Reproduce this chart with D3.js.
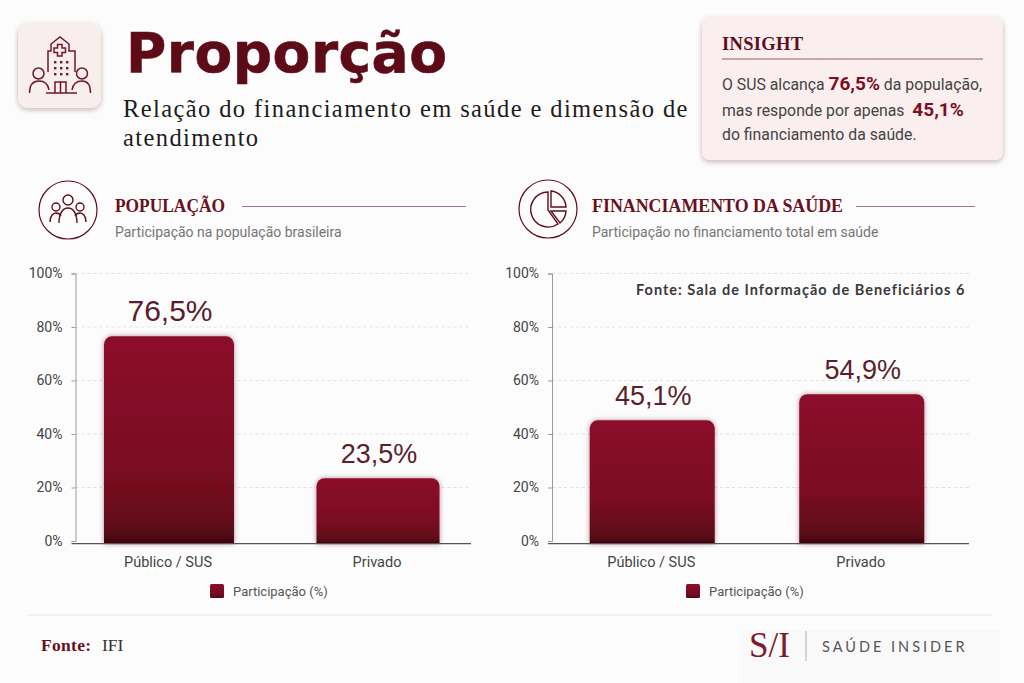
<!DOCTYPE html>
<html lang="pt-BR">
<head>
<meta charset="utf-8">
<title>Proporção</title>
<script src="https://cdn.jsdelivr.net/npm/d3@7"></script>
<style>
  html, body { margin: 0; padding: 0; background: #fdfcfc; }
  svg { display: block; }
</style>
</head>
<body>
<div id="chart"></div>
<script>
// Values
var categories = ["Público / SUS", "Privado"];
var populacao = [76.5, 23.5];
var financiamento = [45.1, 54.9];
var tickValues = [0, 20, 40, 60, 80, 100];
var legendLabel = "Participação (%)";

var WINE = "#5e0e1c", SERIF = "'Liberation Serif', serif",
    SANS = "Roboto, sans-serif", ARIAL = "'Liberation Sans', sans-serif";

var svg = d3.select("#chart").append("svg")
    .attr("width", 1024).attr("height", 683);

var defs = svg.append("defs");

var grad = defs.append("linearGradient").attr("id", "barFill")
    .attr("x1", 0).attr("y1", 0).attr("x2", 0).attr("y2", 1);
grad.append("stop").attr("offset", "0%").attr("stop-color", "#8c0e2a");
grad.append("stop").attr("offset", "65%").attr("stop-color", "#7a0b21");
grad.append("stop").attr("offset", "90%").attr("stop-color", "#620a1a");
grad.append("stop").attr("offset", "100%").attr("stop-color", "#45050f");

function shadow(id, dy, blur, opacity) {
    var f = defs.append("filter").attr("id", id)
        .attr("x", "-15%").attr("y", "-15%").attr("width", "130%").attr("height", "130%");
    f.append("feDropShadow").attr("dx", 0).attr("dy", dy)
        .attr("stdDeviation", blur)
        .attr("flood-color", "#4a1520").attr("flood-opacity", opacity);
}
shadow("cardShadow", 2, 2.5, 0.3);
shadow("barShadow", 0, 2.5, 0.45);

function label(parent, x, y, str, size, family, color, weight, spacing) {
    return parent.append("text")
        .attr("x", x).attr("y", y).text(str)
        .attr("font-size", size + "px")
        .attr("font-family", family)
        .attr("fill", color)
        .attr("font-weight", weight || 400)
        .attr("letter-spacing", spacing || 0);
}

// Logo patch behind the brand mark
svg.append("rect").attr("x", 740).attr("y", 630).attr("width", 260).attr("height", 53)
    .attr("fill", "#faf9f9");

// Header
svg.append("rect").attr("x", 18).attr("y", 23).attr("width", 83).attr("height", 85)
    .attr("rx", 10).attr("fill", "#f8eeee").attr("filter", "url(#cardShadow)");

var hospital = svg.append("g").attr("fill", "none")
    .attr("stroke", "#701825").attr("stroke-width", 1.5);
hospital.append("path").attr("d", "M48 72V51H51V44L60 37L69 44V51H75V72");
hospital.append("path").attr("d", "M57.5 44.5H62V48H65.5V52.5H62V56H57.5V52.5H54V48H57.5Z");
hospital.append("path").attr("d", "M46 93H77M55 93V82H66V93M60.5 82V93");
hospital.append("circle").attr("cx", 38.5).attr("cy", 73.5).attr("r", 5.5);
hospital.append("circle").attr("cx", 82).attr("cy", 73.5).attr("r", 5.5);
hospital.append("path").attr("d", "M29.5 93C29.5 84 34 81 39 81C44 81 48 84 49 90");
hospital.append("path").attr("d", "M90.5 93C90.5 84 87 81 82 81C77 81 73 84 72 90");
var dots = [[54, 61], [60, 61], [66, 61], [54, 67], [60, 67], [66, 67], [54, 73], [60, 73], [66, 73]];
svg.append("g").selectAll("rect").data(dots).enter().append("rect")
    .attr("x", function(d) { return d[0]; })
    .attr("y", function(d) { return d[1]; })
    .attr("width", 2.4).attr("height", 2.4).attr("fill", "#701825");

label(svg, 126, 72, "Proporção", 55, "'DejaVu Sans', sans-serif", "#5e0b18", 700, 0.5)
    .attr("stroke", "#5e0b18").attr("stroke-width", 0.6);
label(svg, 123, 117, "Relação do financiamento em saúde e dimensão de", 24.5, SERIF, "#1c1c1c", 400, 1.4);
label(svg, 123, 146, "atendimento", 24.5, SERIF, "#1c1c1c", 400, 1.4);

// Insight card
svg.append("rect").attr("x", 702).attr("y", 17).attr("width", 301).attr("height", 143)
    .attr("rx", 8).attr("fill", "#faeeee").attr("filter", "url(#cardShadow)");
label(svg, 722, 50, "INSIGHT", 18.5, SERIF, "#5e0e1c", 700, 0.3);
svg.append("line").attr("x1", 722).attr("x2", 983).attr("y1", 59).attr("y2", 59)
    .attr("stroke", "#8d5a62").attr("stroke-width", 1);

var insightLines = [
    { y: 90, parts: [["O SUS alcança ", 0], ["76,5%", 1], [" da população,", 0]] },
    { y: 116, parts: [["mas responde por apenas  ", 0], ["45,1%", 1]] },
    { y: 140, parts: [["do financiamento da saúde.", 0]] }
];
insightLines.forEach(function(line) {
    var t = svg.append("text").attr("x", 722).attr("y", line.y)
        .attr("font-family", SANS).style("white-space", "pre");
    line.parts.forEach(function(p) {
        t.append("tspan").text(p[0])
            .attr("font-size", p[1] ? "19px" : "15.8px")
            .attr("font-weight", p[1] ? 700 : 400)
            .attr("fill", p[1] ? "#7a0f22" : "#444");
    });
});

// Section icons
var people = svg.append("g").attr("fill", "none").attr("stroke", WINE).attr("stroke-width", 1.4);
people.append("circle").attr("cx", 68).attr("cy", 210).attr("r", 29).attr("stroke-width", 1.2);
people.append("circle").attr("cx", 68).attr("cy", 200).attr("r", 5);
people.append("circle").attr("cx", 56).attr("cy", 207).attr("r", 4);
people.append("circle").attr("cx", 80).attr("cy", 207).attr("r", 4);
people.append("path").attr("d", "M59 223C59 213 63 208 68 208C73 208 77 213 77 223");
people.append("path").attr("d", "M50 222C50 216 53 213 56 213C58 213 60 214 61 216");
people.append("path").attr("d", "M86 222C86 216 83 213 80 213C78 213 76 214 75 216");

var pie = svg.append("g").attr("fill", "none").attr("stroke", WINE).attr("stroke-width", 1.4);
pie.append("circle").attr("cx", 548).attr("cy", 209).attr("r", 29).attr("stroke-width", 1.2);
pie.append("path").attr("d", "M548 192A17.5 17.5 0 1 0 558 224L548 210Z");
pie.append("path").attr("d", "M551 191A17 17 0 0 1 566 207H551Z");
pie.append("path").attr("d", "M551 211H566A17 17 0 0 1 560 223Z");

// One panel per chart
var panels = [
    { values: populacao, title: "POPULAÇÃO", titleWidth: 110, sub: "Participação na população brasileira",
      textX: 115, ruleFrom: 242, ruleTo: 466, range: [64.5, 482.5], axisX: [75.5, 471],
      barWidths: [130, 123], valueSize: [30, 27], legendX: 210 },
    { values: financiamento, title: "FINANCIAMENTO DA SAÚDE", titleWidth: 251, sub: "Participação no financiamento total em saúde",
      textX: 592, ruleFrom: 856, ruleTo: 975, range: [547.5, 966.5], axisX: [552, 969],
      barWidths: [125, 125], valueSize: [27, 27], legendX: 686 }
];

var y = d3.scaleLinear().domain([0, 100]).range([541, 273.5]);
var baseline = 543.7;

panels.forEach(function(p) {
    label(svg, p.textX, 212, p.title, 19.5, SERIF, "#6a1020", 700)
        .attr("textLength", p.titleWidth).attr("lengthAdjust", "spacingAndGlyphs");
    svg.append("line").attr("x1", p.ruleFrom).attr("x2", p.ruleTo).attr("y1", 206.5).attr("y2", 206.5)
        .attr("stroke", "#a57880").attr("stroke-width", 1.2);
    label(svg, p.textX, 237, p.sub, 14, SANS, "#757575");

    var x = d3.scaleBand().domain(categories).range(p.range)
        .paddingInner(0.4).paddingOuter(0.2);

    // gridlines
    svg.append("g").selectAll("line").data(tickValues.slice(1)).enter().append("line")
        .attr("x1", p.axisX[0]).attr("x2", p.axisX[1])
        .attr("y1", function(d) { return y(d); })
        .attr("y2", function(d) { return y(d); })
        .attr("stroke", "#e4dfdf").attr("stroke-width", 1).attr("stroke-dasharray", "3,3");

    // y axis
    var yAxis = svg.append("g").attr("transform", "translate(" + p.axisX[0] + ",0)")
        .call(d3.axisLeft(y).tickValues(tickValues).tickSize(4).tickPadding(9)
            .tickFormat(function(d) { return d + "%"; }));
    yAxis.select(".domain").attr("stroke", "#9a9a9a");
    yAxis.selectAll(".tick line").attr("stroke", "#9a9a9a");
    yAxis.selectAll("text").attr("font-family", SANS).attr("font-size", "14px").attr("fill", "#444");

    // bars with rounded tops
    svg.append("g").selectAll("path").data(p.values).enter().append("path")
        .attr("d", function(d, i) {
            var cx = x(categories[i]) + x.bandwidth() / 2, w = p.barWidths[i], r = 8;
            var l = cx - w / 2, rt = l + w, top = y(d);
            var path = d3.path();
            path.moveTo(l, baseline);
            path.lineTo(l, top + r);
            path.arcTo(l, top, l + r, top, r);
            path.lineTo(rt - r, top);
            path.arcTo(rt, top, rt, top + r, r);
            path.lineTo(rt, baseline);
            path.closePath();
            return path.toString();
        })
        .attr("fill", "url(#barFill)")
        .attr("filter", "url(#barShadow)");

    // x axis baseline and category labels
    svg.append("line").attr("x1", p.axisX[0] - 4).attr("x2", p.axisX[1]).attr("y1", baseline).attr("y2", baseline)
        .attr("stroke", "#555").attr("stroke-width", 1.3);
    svg.append("g").selectAll("text").data(categories).enter().append("text")
        .text(function(d) { return d; })
        .attr("x", function(d) { return x(d) + x.bandwidth() / 2 - 1; })
        .attr("y", 567)
        .attr("text-anchor", "middle")
        .attr("font-family", SANS).attr("font-size", "14.5px").attr("fill", "#444");

    // value labels
    svg.append("g").selectAll("text").data(p.values).enter().append("text")
        .text(function(d) { return d.toFixed(1).replace(".", ",") + "%"; })
        .attr("x", function(d, i) { return x(categories[i]) + x.bandwidth() / 2 + 1; })
        .attr("y", function(d) { return y(d) - 15; })
        .attr("text-anchor", "middle")
        .attr("font-family", ARIAL)
        .attr("font-size", function(d, i) { return p.valueSize[i] + "px"; })
        .attr("fill", "#5a1f2b");

    // legend
    svg.append("rect").attr("x", p.legendX).attr("y", 584).attr("width", 14).attr("height", 14)
        .attr("rx", 1.5).attr("fill", "url(#barFill)");
    label(svg, p.legendX + 23, 596, legendLabel, 13, SANS, "#555");
});

label(svg, 636, 295, "Fonte: Sala de Informação de Beneficiários 6", 14.5, "Lato, sans-serif", "#3a3a3a", 700, 1);

// Footer
svg.append("line").attr("x1", 27).attr("x2", 992).attr("y1", 615).attr("y2", 615)
    .attr("stroke", "#efe6e6").attr("stroke-width", 1);
label(svg, 41, 651, "Fonte:", 17.5, SERIF, "#6a1020", 700, 0.3);
label(svg, 102, 651, "IFI", 17.5, SERIF, "#333", 400);

label(svg, 749, 657, "S/I", 35, SERIF, "#7d1a2c", 400);
svg.append("line").attr("x1", 806).attr("x2", 806).attr("y1", 631).attr("y2", 661)
    .attr("stroke", "#b9a9ab").attr("stroke-width", 1);
label(svg, 822, 652, "SAÚDE INSIDER", 14.5, "Lato, sans-serif", "#555", 400, 3);
</script>
</body>
</html>
